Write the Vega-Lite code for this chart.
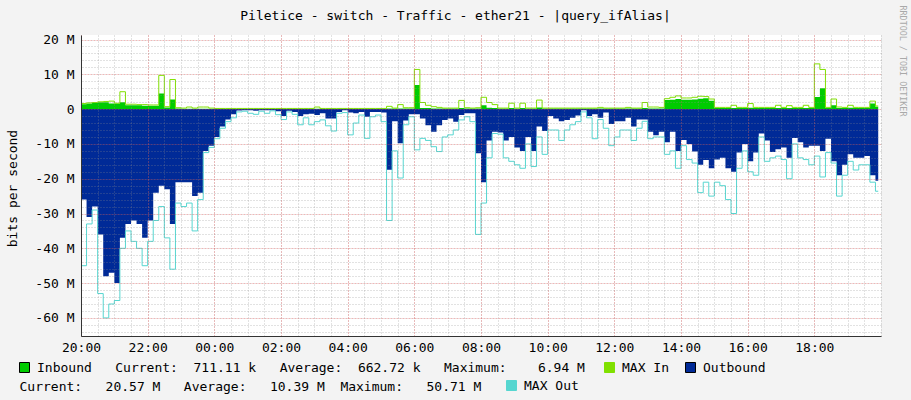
{
 "$schema": "https://vega.github.io/schema/vega-lite/v6.json",
 "width": 800,
 "height": 301,
 "autosize": {"type": "none"},
 "padding": {"left": 81, "top": 35, "right": 30, "bottom": 64},
 "background": "#f3f3f3",
 "config": {
  "font": "DejaVu Sans Mono",
  "view": {"fill": "white", "stroke": null},
  "axis": {"labelFont": "DejaVu Sans Mono", "titleFont": "DejaVu Sans Mono", "titleFontWeight": "normal", "labelColor": "black", "titleColor": "black"},
  "legend": {"labelFont": "DejaVu Sans Mono", "labelFontSize": 13, "labelColor": "black"}
 },
 "data": {"values": [
  {"m":0,"in":1.4,"maxin":1.6,"out":-26,"maxout":-45},
  {"m":10,"in":1.6,"maxin":1.8,"out":-31,"maxout":-33},
  {"m":20,"in":1.8,"maxin":1.9,"out":-28,"maxout":-29},
  {"m":30,"in":2.0,"maxin":2.1,"out":-36,"maxout":-53},
  {"m":40,"in":2.0,"maxin":2.2,"out":-48,"maxout":-60},
  {"m":50,"in":1.6,"maxin":2.3,"out":-47,"maxout":-56},
  {"m":60,"in":1.6,"maxin":1.7,"out":-50,"maxout":-55},
  {"m":70,"in":2.0,"maxin":5.0,"out":-37,"maxout":-40},
  {"m":80,"in":1.1,"maxin":1.4,"out":-33,"maxout":-35},
  {"m":90,"in":1.1,"maxin":1.4,"out":-32,"maxout":-38},
  {"m":100,"in":1.1,"maxin":1.3,"out":-33,"maxout":-40},
  {"m":110,"in":1.0,"maxin":1.3,"out":-37,"maxout":-45},
  {"m":120,"in":1.0,"maxin":1.2,"out":-32,"maxout":-38},
  {"m":130,"in":1.0,"maxin":1.2,"out":-24,"maxout":-32},
  {"m":140,"in":4.5,"maxin":9.7,"out":-22,"maxout":-28},
  {"m":150,"in":0.5,"maxin":0.7,"out":-23,"maxout":-37},
  {"m":160,"in":2.8,"maxin":8.5,"out":-33,"maxout":-46},
  {"m":170,"in":0.2,"maxin":0.4,"out":-21,"maxout":-27},
  {"m":180,"in":0.1,"maxin":0.3,"out":-21,"maxout":-28},
  {"m":190,"in":0.1,"maxin":0.6,"out":-21,"maxout":-27},
  {"m":200,"in":0.1,"maxin":0.3,"out":-25,"maxout":-35},
  {"m":210,"in":0.1,"maxin":0.6,"out":-24,"maxout":-26},
  {"m":220,"in":0.1,"maxin":0.6,"out":-12,"maxout":-12.5},
  {"m":230,"in":0.1,"maxin":0.3,"out":-10.5,"maxout":-11},
  {"m":240,"in":0.1,"maxin":0.2,"out":-8,"maxout":-8.5},
  {"m":250,"in":0.1,"maxin":0.2,"out":-5,"maxout":-5.5},
  {"m":260,"in":0.1,"maxin":0.2,"out":-3,"maxout":-3.6},
  {"m":270,"in":0.1,"maxin":0.2,"out":-1.5,"maxout":-2.5},
  {"m":280,"in":0.1,"maxin":0.2,"out":-0.4,"maxout":-0.8},
  {"m":290,"in":0.1,"maxin":0.2,"out":-0.3,"maxout":-0.6},
  {"m":300,"in":0.1,"maxin":0.2,"out":-0.3,"maxout":-1.2},
  {"m":310,"in":0.1,"maxin":0.2,"out":-0.5,"maxout":-1.5},
  {"m":320,"in":0.1,"maxin":0.2,"out":-0.3,"maxout":-0.6},
  {"m":330,"in":0.1,"maxin":0.2,"out":-0.3,"maxout":-1.2},
  {"m":340,"in":0.1,"maxin":0.2,"out":-0.3,"maxout":-0.5},
  {"m":350,"in":0.1,"maxin":0.2,"out":-0.6,"maxout":-1.6},
  {"m":360,"in":0.1,"maxin":0.2,"out":-2,"maxout":-3},
  {"m":370,"in":0.1,"maxin":0.2,"out":-0.5,"maxout":-0.8},
  {"m":380,"in":0.1,"maxin":0.2,"out":-0.8,"maxout":-1.5},
  {"m":390,"in":0.1,"maxin":0.2,"out":-2,"maxout":-4.5},
  {"m":400,"in":0.1,"maxin":0.2,"out":-1.5,"maxout":-2.5},
  {"m":410,"in":0.1,"maxin":0.2,"out":-1.3,"maxout":-4.5},
  {"m":420,"in":0.1,"maxin":0.6,"out":-1.7,"maxout":-3.6},
  {"m":430,"in":0.1,"maxin":0.2,"out":-1.2,"maxout":-3.1},
  {"m":440,"in":0.1,"maxin":0.2,"out":-2.7,"maxout":-4.8},
  {"m":450,"in":0.1,"maxin":0.2,"out":-2.7,"maxout":-6.3},
  {"m":460,"in":0.1,"maxin":0.2,"out":-0.8,"maxout":-1.2},
  {"m":470,"in":0.1,"maxin":0.2,"out":-0.3,"maxout":-1},
  {"m":480,"in":0.1,"maxin":0.2,"out":-1,"maxout":-7.4},
  {"m":490,"in":0.1,"maxin":0.2,"out":-1.2,"maxout":-4},
  {"m":500,"in":0.1,"maxin":0.2,"out":-0.8,"maxout":-1.7},
  {"m":510,"in":0.1,"maxin":0.2,"out":-2.2,"maxout":-8.4},
  {"m":520,"in":0.1,"maxin":0.2,"out":-0.8,"maxout":-2.2},
  {"m":530,"in":0.1,"maxin":0.2,"out":-0.8,"maxout":-1.7},
  {"m":540,"in":0.1,"maxin":0.2,"out":-1,"maxout":-3.6},
  {"m":550,"in":0.2,"maxin":0.8,"out":-17.4,"maxout":-32},
  {"m":560,"in":0.2,"maxin":0.3,"out":-3.5,"maxout":-12},
  {"m":570,"in":0.2,"maxin":1.3,"out":-9.8,"maxout":-19.8},
  {"m":580,"in":0.2,"maxin":0.4,"out":-3.3,"maxout":-4.5},
  {"m":590,"in":0.2,"maxin":0.4,"out":-1.5,"maxout":-2.2},
  {"m":600,"in":6.9,"maxin":11.4,"out":-1.5,"maxout":-11.7},
  {"m":610,"in":0.3,"maxin":1.9,"out":-2.7,"maxout":-8.4},
  {"m":620,"in":0.3,"maxin":1.1,"out":-4.6,"maxout":-9},
  {"m":630,"in":0.2,"maxin":0.7,"out":-6.5,"maxout":-10.8},
  {"m":640,"in":0.2,"maxin":0.5,"out":-4.6,"maxout":-12.2},
  {"m":650,"in":0.2,"maxin":0.3,"out":-3.1,"maxout":-8},
  {"m":660,"in":0.2,"maxin":0.3,"out":-2.7,"maxout":-7.4},
  {"m":670,"in":0.2,"maxin":0.3,"out":-3.6,"maxout":-6},
  {"m":680,"in":0.3,"maxin":2.5,"out":-1.7,"maxout":-3.1},
  {"m":690,"in":0.2,"maxin":0.4,"out":-1.2,"maxout":-2.2},
  {"m":700,"in":0.2,"maxin":0.3,"out":-1.2,"maxout":-3.6},
  {"m":710,"in":0.2,"maxin":0.4,"out":-12.7,"maxout":-36},
  {"m":720,"in":1.1,"maxin":3.4,"out":-21,"maxout":-27},
  {"m":730,"in":0.4,"maxin":1.9,"out":-9,"maxout":-14},
  {"m":740,"in":0.3,"maxin":1.3,"out":-6.5,"maxout":-7},
  {"m":750,"in":0.2,"maxin":0.3,"out":-6.7,"maxout":-7.2},
  {"m":760,"in":0.2,"maxin":0.3,"out":-9,"maxout":-14},
  {"m":770,"in":0.3,"maxin":1.7,"out":-8,"maxout":-15},
  {"m":780,"in":0.2,"maxin":0.3,"out":-11,"maxout":-16},
  {"m":790,"in":0.3,"maxin":1.7,"out":-12,"maxout":-17},
  {"m":800,"in":0.2,"maxin":0.3,"out":-8,"maxout":-10},
  {"m":810,"in":0.2,"maxin":0.3,"out":-12,"maxout":-16.5},
  {"m":820,"in":0.5,"maxin":2.6,"out":-5,"maxout":-8},
  {"m":830,"in":0.2,"maxin":0.3,"out":-6.3,"maxout":-13},
  {"m":840,"in":0.2,"maxin":0.3,"out":-2,"maxout":-6},
  {"m":850,"in":0.2,"maxin":0.3,"out":-2.7,"maxout":-6},
  {"m":860,"in":0.2,"maxin":0.3,"out":-3.5,"maxout":-9},
  {"m":870,"in":0.2,"maxin":0.3,"out":-3.1,"maxout":-6},
  {"m":880,"in":0.2,"maxin":0.3,"out":-2.5,"maxout":-4.5},
  {"m":890,"in":0.2,"maxin":0.3,"out":-1.8,"maxout":-3.6},
  {"m":900,"in":0.2,"maxin":0.3,"out":-0.3,"maxout":-0.8},
  {"m":910,"in":0.2,"maxin":0.3,"out":-2,"maxout":-2.5},
  {"m":920,"in":0.2,"maxin":0.3,"out":-1.5,"maxout":-8.5},
  {"m":930,"in":0.2,"maxin":0.5,"out":-2.5,"maxout":-3},
  {"m":940,"in":0.2,"maxin":0.3,"out":-1,"maxout":-5.5},
  {"m":950,"in":0.2,"maxin":0.3,"out":-4.3,"maxout":-10.5},
  {"m":960,"in":0.2,"maxin":0.3,"out":-3.5,"maxout":-8},
  {"m":970,"in":0.2,"maxin":0.3,"out":-3.5,"maxout":-6},
  {"m":980,"in":0.2,"maxin":0.5,"out":-2.5,"maxout":-6},
  {"m":990,"in":0.2,"maxin":0.3,"out":-5,"maxout":-9},
  {"m":1000,"in":0.2,"maxin":0.3,"out":-3,"maxout":-5.5},
  {"m":1010,"in":0.3,"maxin":1.9,"out":-3,"maxout":-3.5},
  {"m":1020,"in":0.2,"maxin":0.6,"out":-6.5,"maxout":-8.5},
  {"m":1030,"in":0.2,"maxin":0.6,"out":-7.5,"maxout":-8},
  {"m":1040,"in":0.2,"maxin":0.5,"out":-6.5,"maxout":-8},
  {"m":1050,"in":2.6,"maxin":3.0,"out":-9.5,"maxout":-13},
  {"m":1060,"in":2.7,"maxin":3.4,"out":-6.5,"maxout":-12},
  {"m":1070,"in":2.9,"maxin":3.8,"out":-12,"maxout":-17},
  {"m":1080,"in":2.7,"maxin":3.2,"out":-8.9,"maxout":-10.5},
  {"m":1090,"in":2.7,"maxin":3.2,"out":-10,"maxout":-14.5},
  {"m":1100,"in":2.8,"maxin":3.4,"out":-12.2,"maxout":-15.5},
  {"m":1110,"in":3.0,"maxin":3.7,"out":-16,"maxout":-24},
  {"m":1120,"in":3.1,"maxin":3.6,"out":-14.6,"maxout":-21},
  {"m":1130,"in":2.4,"maxin":2.9,"out":-17,"maxout":-25},
  {"m":1140,"in":0.3,"maxin":0.5,"out":-14.5,"maxout":-21},
  {"m":1150,"in":0.3,"maxin":0.5,"out":-14,"maxout":-22},
  {"m":1160,"in":0.3,"maxin":0.5,"out":-17,"maxout":-26},
  {"m":1170,"in":0.3,"maxin":1.1,"out":-18,"maxout":-30},
  {"m":1180,"in":0.3,"maxin":0.5,"out":-12.5,"maxout":-17},
  {"m":1190,"in":0.3,"maxin":0.5,"out":-10,"maxout":-12},
  {"m":1200,"in":0.4,"maxin":1.6,"out":-15,"maxout":-18},
  {"m":1210,"in":0.3,"maxin":0.5,"out":-12.5,"maxout":-19},
  {"m":1220,"in":0.3,"maxin":0.5,"out":-7,"maxout":-8},
  {"m":1230,"in":0.3,"maxin":0.5,"out":-9,"maxout":-15},
  {"m":1240,"in":0.3,"maxin":0.5,"out":-12.3,"maxout":-14},
  {"m":1250,"in":0.3,"maxin":1.1,"out":-11.5,"maxout":-13.5},
  {"m":1260,"in":0.3,"maxin":0.5,"out":-11,"maxout":-14.5},
  {"m":1270,"in":0.3,"maxin":1.0,"out":-14,"maxout":-20},
  {"m":1280,"in":0.3,"maxin":0.5,"out":-8.3,"maxout":-10},
  {"m":1290,"in":0.3,"maxin":0.5,"out":-9.5,"maxout":-14},
  {"m":1300,"in":0.3,"maxin":1.1,"out":-11,"maxout":-14.5},
  {"m":1310,"in":0.3,"maxin":0.5,"out":-10.5,"maxout":-16},
  {"m":1320,"in":3.5,"maxin":13.0,"out":-10.5,"maxout":-13.5},
  {"m":1330,"in":6.0,"maxin":11.4,"out":-12,"maxout":-19.5},
  {"m":1340,"in":0.3,"maxin":0.5,"out":-8.5,"maxout":-12.5},
  {"m":1350,"in":1.1,"maxin":2.9,"out":-15,"maxout":-15.5},
  {"m":1360,"in":0.3,"maxin":0.6,"out":-19,"maxout":-25},
  {"m":1370,"in":0.3,"maxin":0.5,"out":-16,"maxout":-19},
  {"m":1380,"in":0.4,"maxin":1.1,"out":-13,"maxout":-15},
  {"m":1390,"in":0.3,"maxin":0.5,"out":-14,"maxout":-17.5},
  {"m":1400,"in":0.3,"maxin":0.5,"out":-14,"maxout":-16},
  {"m":1410,"in":0.3,"maxin":0.5,"out":-13.5,"maxout":-16},
  {"m":1420,"in":1.6,"maxin":2.3,"out":-19,"maxout":-21},
  {"m":1430,"in":0.7,"maxin":0.9,"out":-20.6,"maxout":-23.6},
  {"m":1435,"in":0.71,"maxin":0.9,"out":-20.57,"maxout":-23.6}
 ]},
 "layer": [
  {
   "mark": {"type": "area", "interpolate": "step-after", "opacity": 1},
   "encoding": {
    "x": {"field": "m", "type": "quantitative", "scale": {"domain": [0, 1440], "nice": false, "zero": false},
     "axis": {"orient": "top", "values": [0,30,60,90,120,150,180,210,240,270,300,330,360,390,420,450,480,510,540,570,600,630,660,690,720,750,780,810,840,870,900,930,960,990,1020,1050,1080,1110,1140,1170,1200,1230,1260,1290,1320,1350,1380,1410,1440],
      "grid": true, "gridColor": "#8c8c8c", "gridOpacity": 0.5, "gridDash": [1, 2], "labels": false, "ticks": false, "domain": false,
      "title": "Piletice - switch - Traffic - ether21 - |query_ifAlias|", "titleAngle": 0, "titleX": 374, "titleY": -16, "titleAlign": "center", "titleBaseline": "alphabetic", "titleFontSize": 13, "titleColor": "black", "zindex": 1}},
    "y": {"field": "out", "type": "quantitative", "scale": {"domain": [-65.2, 21.3], "nice": false, "zero": false},
     "axis": {"orient": "right", "values": [-64,-62,-60,-58,-56,-54,-52,-50,-48,-46,-44,-42,-40,-38,-36,-34,-32,-30,-28,-26,-24,-22,-20,-18,-16,-14,-12,-10,-8,-6,-4,-2,0,2,4,6,8,10,12,14,16,18,20],
      "grid": true, "gridColor": "#8c8c8c", "gridOpacity": 0.5, "gridDash": [1, 2], "labels": false, "ticks": false, "domain": false,
      "title": "RRDTOOL / TOBI OETIKER", "titleAngle": 90, "titleX": 21, "titleY": -30, "titleAlign": "left", "titleBaseline": "middle", "titleFontSize": 8.4, "titleColor": "#a9a9a9", "zindex": 1}},
    "color": {"datum": "Outbound", "type": "nominal", "scale": {"range": ["#002A97"]},
     "legend": {"orient": "none", "legendX": 603, "legendY": 326, "title": null, "padding": 0, "labelOffset": 6, "labelLimit": 0, "labelFontSize": 13, "symbolType": "square", "symbolSize": 100,
      "symbolFillColor": "#002A97", "symbolStrokeColor": "black", "symbolStrokeWidth": 1,
      "encode": {"symbols": {"fill": {"value": "#002A97"}, "stroke": {"value": "black"}, "strokeWidth": {"value": 1}, "opacity": {"value": 1}}}}}
   }
  },
  {
   "mark": {"type": "line", "interpolate": "step-after", "strokeWidth": 1, "opacity": 1},
   "encoding": {
    "x": {"field": "m", "type": "quantitative", "scale": {"domain": [0, 1440], "nice": false, "zero": false},
     "axis": {"orient": "bottom", "values": [0,120,240,360,480,600,720,840,960,1080,1200,1320],
      "grid": true, "gridColor": "#ff3030", "gridOpacity": 0.45, "gridDash": [1, 2],
      "labelExpr": "(((datum.value/60+20)%24)<10?'0':'')+((datum.value/60+20)%24)+':00'",
      "labelFontSize": 13, "labelPadding": 5, "labelFlush": false, "labelOverlap": false, "ticks": false, "tickSize": 0, "domain": true, "domainColor": "#333333",
      "title": "Current:\u00a0\u00a0\u00a020.57\u00a0M\u00a0\u00a0\u00a0Average:\u00a0\u00a0\u00a010.39\u00a0M\u00a0\u00a0Maximum:\u00a0\u00a0\u00a050.71\u00a0M",
      "titleAnchor": "start", "titleAlign": "left", "titleX": -62, "titleY": 50, "titleBaseline": "middle", "titleFontSize": 13, "zindex": 1}},
    "y": {"field": "maxout", "type": "quantitative", "scale": {"domain": [-65.2, 21.3], "nice": false, "zero": false},
     "axis": {"orient": "left", "values": [-60,-50,-40,-30,-20,-10,0,10,20],
      "grid": true, "gridColor": "#ff3030", "gridOpacity": 0.45, "gridDash": [1, 2],
      "labelExpr": "datum.value == 0 ? '0' : datum.value + ' M'",
      "labelFontSize": 13, "labelPadding": 7, "ticks": false, "tickSize": 0, "domain": true, "domainColor": "#333333",
      "title": "bits per second", "titleX": -69, "titleY": 153, "titleAngle": -90, "titleAlign": "center", "titleBaseline": "middle", "titleFontSize": 13, "zindex": 1}},
    "color": {"datum": "MAX Out", "type": "nominal", "scale": {"range": ["#56D6D0"]},
     "legend": {"orient": "none", "legendX": 424, "legendY": 344, "title": null, "padding": 0, "labelOffset": 6, "labelLimit": 0, "labelFontSize": 13, "symbolType": "square", "symbolSize": 100,
      "symbolFillColor": "#56D6D0", "symbolStrokeColor": "black", "symbolStrokeWidth": 1,
      "encode": {"symbols": {"fill": {"value": "#56D6D0"}, "stroke": {"value": "black"}, "strokeWidth": {"value": 1}, "opacity": {"value": 1}}}}}
   }
  },
  {
   "mark": {"type": "area", "interpolate": "step-after", "opacity": 1},
   "encoding": {
    "x": {"field": "m", "type": "quantitative", "scale": {"domain": [0, 1440], "nice": false, "zero": false}, "axis": null},
    "y": {"field": "in", "type": "quantitative", "scale": {"domain": [-65.2, 21.3], "nice": false, "zero": false}, "axis": null},
    "color": {"datum": "Inbound", "type": "nominal", "scale": {"range": ["#00CC00"]},
     "legend": {"orient": "none", "legendX": -63, "legendY": 326, "title": null, "padding": 0, "labelOffset": 6, "labelLimit": 0, "labelFontSize": 13, "symbolType": "square", "symbolSize": 100,
      "symbolFillColor": "#00CC00", "symbolStrokeColor": "black", "symbolStrokeWidth": 1,
      "labelExpr": "'Inbound\u00a0\u00a0\u00a0Current:\u00a0\u00a0711.11\u00a0k\u00a0\u00a0\u00a0Average:\u00a0\u00a0662.72\u00a0k\u00a0\u00a0\u00a0Maximum:\u00a0\u00a0\u00a0\u00a06.94\u00a0M'",
      "encode": {"symbols": {"fill": {"value": "#00CC00"}, "stroke": {"value": "black"}, "strokeWidth": {"value": 1}, "opacity": {"value": 1}}}}}
   }
  },
  {
   "mark": {"type": "line", "interpolate": "step-after", "strokeWidth": 1, "opacity": 1},
   "encoding": {
    "x": {"field": "m", "type": "quantitative", "scale": {"domain": [0, 1440], "nice": false, "zero": false}, "axis": null},
    "y": {"field": "maxin", "type": "quantitative", "scale": {"domain": [-65.2, 21.3], "nice": false, "zero": false}, "axis": null},
    "color": {"datum": "MAX In", "type": "nominal", "scale": {"range": ["#80E000"]},
     "legend": {"orient": "none", "legendX": 522, "legendY": 326, "title": null, "padding": 0, "labelOffset": 6, "labelLimit": 0, "labelFontSize": 13, "symbolType": "square", "symbolSize": 100,
      "symbolFillColor": "#80E000", "symbolStrokeColor": "black", "symbolStrokeWidth": 1,
      "encode": {"symbols": {"fill": {"value": "#80E000"}, "stroke": {"value": "black"}, "strokeWidth": {"value": 1}, "opacity": {"value": 1}}}}}
   }
  }
 ],
 "resolve": {"axis": {"x": "independent", "y": "independent"}, "scale": {"color": "independent"}, "legend": {"color": "independent"}}
}
